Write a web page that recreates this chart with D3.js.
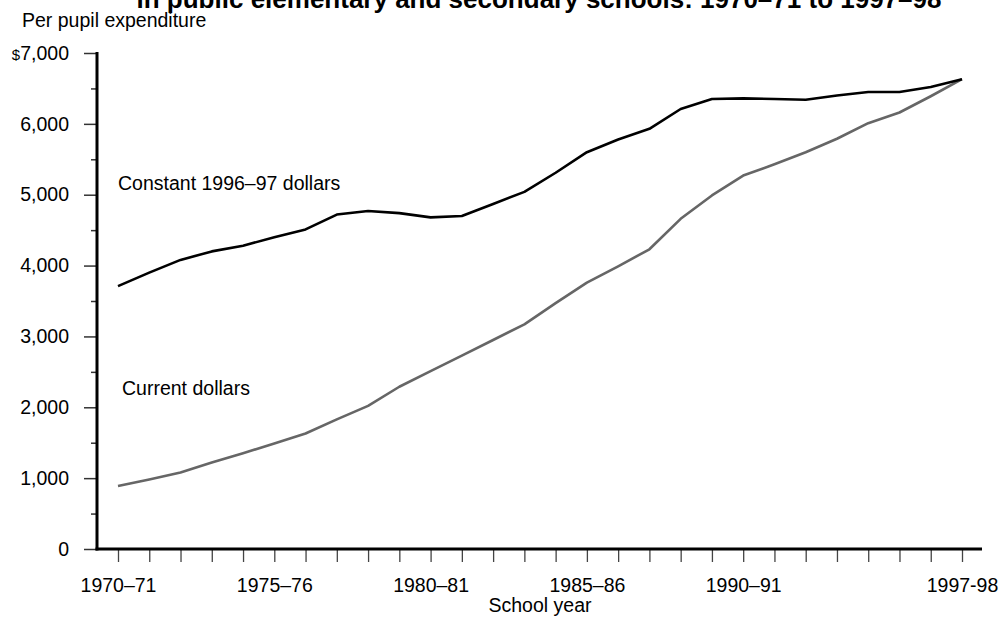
<!DOCTYPE html>
<html><head><meta charset="utf-8">
<script src="https://cdn.jsdelivr.net/npm/d3@7"></script>
<style>
body{margin:0;background:#fff;}
svg{display:block;font-family:"Liberation Sans",Arial,Helvetica,sans-serif;}
</style></head>
<body>
<svg id="chart" width="1002" height="625"></svg>
<script>
const years = ["1970–71","1971–72","1972–73","1973–74","1974–75","1975–76","1976–77","1977–78","1978–79","1979–80","1980–81","1981–82","1982–83","1983–84","1984–85","1985–86","1986–87","1987–88","1988–89","1989–90","1990–91","1991–92","1992–93","1993–94","1994–95","1995–96","1996–97","1997–98"];
const constantDollars = [3710,3900,4080,4200,4280,4400,4510,4720,4770,4740,4680,4700,4870,5040,5310,5600,5780,5930,6210,6350,6360,6350,6340,6400,6450,6450,6520,6630];
const currentDollars = [890,980,1080,1220,1350,1490,1630,1830,2020,2290,2510,2730,2950,3170,3470,3760,3990,4230,4660,4990,5270,5430,5600,5790,6010,6160,6390,6630];
const xTickLabels = {0:"1970–71",5:"1975–76",10:"1980–81",15:"1985–86",20:"1990–91",27:"1997-98"};
const yMajorTicks = [0,1000,2000,3000,4000,5000,6000,7000];
const yMinorTicks = [500,1500,2500,3500,4500,5500,6500];

const svg = d3.select("#chart");
const FS = 19.5;
const x = d3.scaleLinear().domain([0, years.length-1]).range([118, 962]);
const y = d3.scaleLinear().domain([0, 7000]).range([549, 53]);
const axisX = 97;

// Title (cut off at top, as in the original)
svg.append("text").attr("x", 539).attr("y", 8).attr("text-anchor","middle")
  .attr("font-weight","bold").attr("font-size",26).attr("fill","#000")
  .text("in public elementary and secondary schools: 1970–71 to 1997–98");

svg.append("text").attr("x", 22).attr("y", 27).attr("font-size",FS).attr("fill","#000")
  .text("Per pupil expenditure");

// Y axis major
const yAxis = d3.axisLeft(y).tickValues(yMajorTicks).tickSize(13).tickPadding(15)
  .tickFormat(d => d===0 ? "0" : d3.format(",")(d));
const gy = svg.append("g").attr("transform",`translate(${axisX},0)`).call(yAxis);
gy.select(".domain").remove();
gy.selectAll(".tick line").attr("stroke","#333").attr("stroke-width",1.5);
gy.selectAll(".tick text").attr("font-size",FS).attr("font-family","inherit").attr("fill","#000");
gy.selectAll(".tick text").filter(d=>d===7000).text(null)
  .call(t=>{t.append("tspan").attr("font-size",15).text("$"); t.append("tspan").text("7,000");});

const yAxisMinor = d3.axisLeft(y).tickValues(yMinorTicks).tickSize(6).tickFormat("");
const gym = svg.append("g").attr("transform",`translate(${axisX},0)`).call(yAxisMinor);
gym.select(".domain").remove();
gym.selectAll(".tick line").attr("stroke","#333").attr("stroke-width",1.5);

// X axis
const xAxis = d3.axisBottom(x).tickValues(d3.range(years.length)).tickSize(13).tickPadding(16)
  .tickFormat(i => xTickLabels[i] || "");
const gx = svg.append("g").attr("transform",`translate(0,${y(0)})`).call(xAxis);
gx.select(".domain").remove();
gx.selectAll(".tick line").attr("stroke","#444").attr("stroke-width",1.3);
gx.selectAll(".tick text").attr("font-size",FS).attr("font-family","inherit").attr("fill","#000");

// axis lines
svg.append("line").attr("x1",axisX).attr("x2",axisX).attr("y1",y(7000)-1).attr("y2",y(0)+1.5)
  .attr("stroke","#000").attr("stroke-width",3);
svg.append("line").attr("x1",axisX-1.5).attr("x2",982).attr("y1",y(0)).attr("y2",y(0))
  .attr("stroke","#000").attr("stroke-width",3);

svg.append("text").attr("x",540).attr("y",612).attr("text-anchor","middle").attr("font-size",FS)
  .text("School year");

// lines
const line = d3.line().x((d,i)=>x(i)).y(d=>y(d));
svg.append("path").datum(currentDollars).attr("d",line).attr("fill","none")
  .attr("stroke","#666").attr("stroke-width",2.6).attr("stroke-linejoin","round");
svg.append("path").datum(constantDollars).attr("d",line).attr("fill","none")
  .attr("stroke","#000").attr("stroke-width",2.6).attr("stroke-linejoin","round");

svg.append("text").attr("x",118).attr("y",190).attr("font-size",FS).text("Constant 1996–97 dollars");
svg.append("text").attr("x",122).attr("y",395).attr("font-size",FS).text("Current dollars");
</script>
</body></html>
